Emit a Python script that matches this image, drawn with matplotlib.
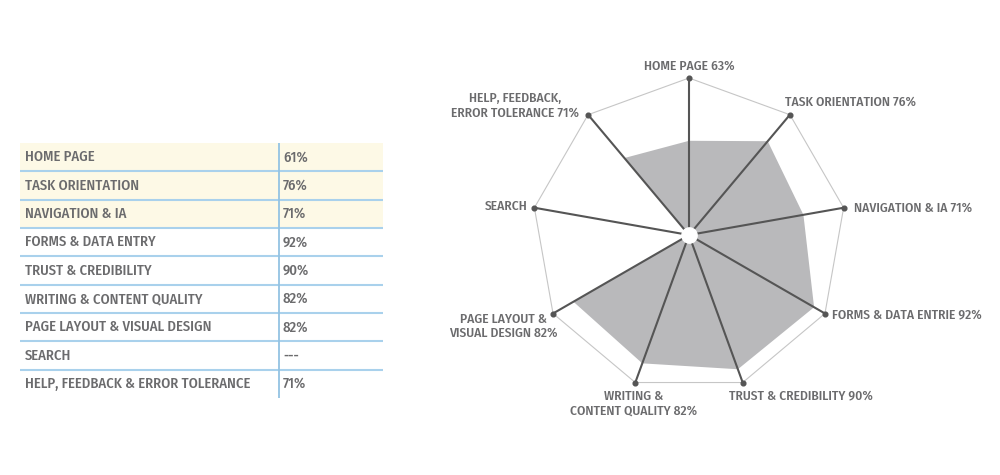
import numpy as np
import matplotlib

matplotlib.use("Agg")
import matplotlib.pyplot as plt

FONT = ["Fira Sans Condensed", "DejaVu Sans"]
TEXT_COLOR = "#6b6b6d"
plt.rcParams["font.family"] = FONT

# table data
TABLE_CATEGORIES = [
    "HOME PAGE",
    "TASK ORIENTATION",
    "NAVIGATION & IA",
    "FORMS & DATA ENTRY",
    "TRUST & CREDIBILITY",
    "WRITING & CONTENT QUALITY",
    "PAGE LAYOUT & VISUAL DESIGN",
    "SEARCH",
    "HELP, FEEDBACK & ERROR TOLERANCE",
]
TABLE_VALUES = ["61%", "76%", "71%", "92%", "90%", "82%", "82%", "---", "71%"]
HIGHLIGHT_ROWS = 3

# radar data (shaded area, labels as printed)
RADAR_LABELS = [
    "HOME PAGE 63%",
    "TASK ORIENTATION 76%",
    "NAVIGATION & IA 71%",
    "FORMS & DATA ENTRIE 92%",
    "TRUST & CREDIBILITY 90%",
    "WRITING &\nCONTENT QUALITY 82%",
    "PAGE LAYOUT &\nVISUAL DESIGN 82%",
    "SEARCH",
    "HELP, FEEDBACK,\nERROR TOLERANCE 71%",
]
RADAR_SCORES = [60, 78, 74, 92, 91, 87, 85, 0, 64]

# label placement: offset in pixels from spoke end, horizontal alignment
LABEL_PLACEMENT = [
    (0, 12, "center"),
    (-5, 13, "left"),
    (10, 0, "left"),
    (7, -1, "left"),
    (-14, -13, "left"),
    (-2, -21, "center"),
    (5, -13, "right"),
    (-7, 1, "right"),
    (-9, 9, "right"),
]

fig = plt.figure(figsize=(10, 4.75), dpi=100, facecolor="white")

# ---- table ----
ax_t = fig.add_axes([20 / 1000, 77 / 475, 363 / 1000, 255 / 475])
ax_t.set_xlim(0, 1)
ax_t.set_ylim(len(TABLE_CATEGORIES), 0)
ax_t.set_axis_off()
for i in range(HIGHLIGHT_ROWS):
    ax_t.axhspan(i, i + 1, color="#fdf9e6", lw=0, zorder=0)
for k in range(1, len(TABLE_CATEGORIES)):
    ax_t.axhline(k, color="#a9d1ec", lw=1.5, zorder=1)
ax_t.axvline(0.7135, color="#93c3e3", lw=1.3, zorder=2)
for i, (name, val) in enumerate(zip(TABLE_CATEGORIES, TABLE_VALUES)):
    ax_t.text(0.0138, i + 0.5, name, va="center", ha="left", fontsize=10.5,
              fontweight=500, color=TEXT_COLOR)
    ax_t.text(0.7245, i + 0.5, val, va="center", ha="left", fontsize=10.5,
              fontweight=500, color=TEXT_COLOR)

# ---- radar ----
ax = fig.add_axes([532 / 1000, 82 / 475, 314 / 1000, 316 / 475], projection="polar")
ax.set_theta_offset(np.pi / 2)
ax.set_theta_direction(-1)
ax.set_ylim(0, 100)
ax.set_axis_off()

n = len(RADAR_LABELS)
theta = np.arange(n) * 2 * np.pi / n
theta_closed = np.append(theta, theta[0])
scores_closed = np.append(RADAR_SCORES, RADAR_SCORES[0])

ax.fill(theta_closed, scores_closed, color="#b9b9bb", lw=0, zorder=1)
ax.plot(theta_closed, [100] * (n + 1), color="#c6c6c6", lw=0.8, zorder=2, clip_on=False)
for t in theta:
    ax.plot([t, t], [0, 100], color="#555555", lw=1.5, zorder=3, clip_on=False)
ax.plot(theta, [100] * n, "o", ms=3.4, color="#555555", zorder=4, clip_on=False)
ax.plot([0], [0], "o", ms=11, mfc="white", mec="white", zorder=5)

for t, label, (dx, dy, ha) in zip(theta, RADAR_LABELS, LABEL_PLACEMENT):
    ax.annotate(label, xy=(t, 100), xytext=(dx, dy), textcoords="offset pixels",
                ha=ha, va="center", multialignment="center", fontsize=9.7,
                fontweight=500, color=TEXT_COLOR, linespacing=1.15,
                annotation_clip=False)

fig.savefig("out.png", dpi=100, facecolor="white")
